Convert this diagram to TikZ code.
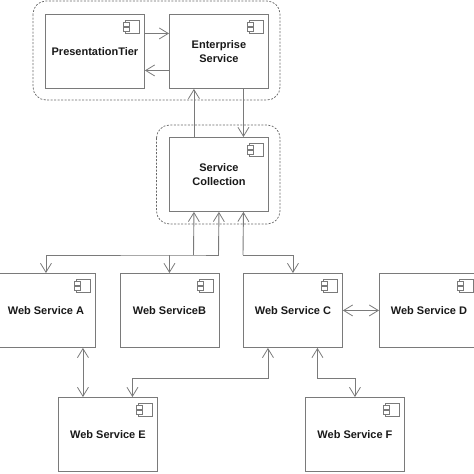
\documentclass[tikz,border=0pt]{standalone}
\usepackage{fontspec}
\setmainfont{Liberation Sans}
\usetikzlibrary{arrows.meta,positioning}
\definecolor{ln}{gray}{0.48}
\definecolor{txt}{gray}{0.1}
\tikzset{
  x=1pt,y=-1pt,
  comp/.style={draw=ln,line width=0.9pt,fill=white,minimum width=99pt,minimum height=74pt,inner sep=0pt,align=center,
    font=\bfseries\fontsize{11}{13.3}\selectfont,text=txt,anchor=north west},
  group/.style={draw=ln!85!black,line width=0.7pt,dash pattern=on 2pt off 1.5pt,rounded corners=13pt},
  conn/.style={draw=ln,line width=0.9pt},
  one/.style={conn,-{Straight Barb[length=9pt,width=11pt,line width=0.8pt]}},
  both/.style={conn,{Straight Barb[length=9pt,width=11pt,line width=0.8pt]}-{Straight Barb[length=9pt,width=11pt,line width=0.8pt]}},
  icon/.style={draw=ln,line width=0.7pt,fill=white}
}
\newcommand{\compicon}[1]{%
  \draw[icon] ([xshift=-20pt,yshift=-6pt]#1.north east) rectangle ([xshift=-6pt,yshift=-19pt]#1.north east);
  \draw[icon] ([xshift=-22pt,yshift=-8pt]#1.north east) rectangle ([xshift=-16pt,yshift=-12pt]#1.north east);
  \draw[icon] ([xshift=-22pt,yshift=-13.5pt]#1.north east) rectangle ([xshift=-16pt,yshift=-17.5pt]#1.north east);
}
\begin{document}
\begin{tikzpicture}
\useasboundingbox (0,0) rectangle (474,474);
\clip (0,0) rectangle (474,474);
\draw[group] (33,1) rectangle (280,100);
\draw[group] (156.5,125) rectangle (280,224);
\node[comp] (pres) at (45,14) {PresentationTier};
\node[comp] (ent) at (169,14) {Enterprise\\Service};
\node[comp] (coll) at (169,137) {Service\\Collection};
\node[comp] (wa) at (-4,273) {Web Service A};
\node[comp] (wb) at (119.5,273) {Web ServiceB};
\node[comp] (wc) at (243,273) {Web Service C};
\node[comp] (wd) at (379,273) {Web Service D};
\node[comp] (we) at (58,397) {Web Service E};
\node[comp] (wf) at (305,397) {Web Service F};
\foreach \n in {pres,ent,coll,wa,wb,wc,wd,we,wf}{\compicon{\n}}
\draw[one] ([yshift=18pt]pres.east) -- ([yshift=18pt]ent.west);
\draw[one] ([yshift=-19pt]ent.west) -- ([yshift=-19pt]pres.east);
\draw[one] ([xshift=-25pt]coll.north) -- ([xshift=-25pt]ent.south);
\draw[one] ([xshift=24.5pt]ent.south) -- ([xshift=24.5pt]coll.north);
\coordinate (busa) at (193.5,255);
\coordinate (busb) at (218.5,255);
\coordinate (busc) at (243,255);
\draw[one] (busa) -- ([xshift=-25pt]coll.south);
\draw[one] (busb) -- (coll.south);
\draw[one] (busc) -- ([xshift=24.5pt]coll.south);
\draw[one] (busb) -- (busa) -- (wa.north |- busa) -- (wa.north);
\draw[one] (wb.north |- busa) -- (wb.north);
\draw[one] (busc) -- (wc.north |- busc) -- (wc.north);
\draw[both] ([xshift=37pt]wa.south) -- ([xshift=37pt]wa.south |- we.north);
\draw[both] (we.north |- 0,397) ++(24.5,0) coordinate (eup) -- (eup |- 0,378.5) -- ([xshift=-25pt]wc.south |- 0,378.5) -- ([xshift=-25pt]wc.south);
\draw[both] ([xshift=24.5pt]wc.south) -- ([xshift=24.5pt]wc.south |- 0,378.5) -- (wf.north |- 0,378.5) -- (wf.north);
\draw[both] (wc.east) -- (wd.west);
\end{tikzpicture}
\end{document}
